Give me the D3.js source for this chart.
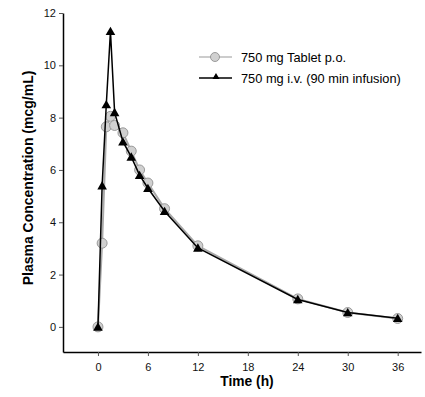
<!DOCTYPE html>
<html>
<head>
<meta charset="utf-8">
<script src="https://cdn.jsdelivr.net/npm/d3@7"></script>
<style>
  body { margin: 0; background: #fff; }
  svg text { font-family: "Liberation Sans", Arial, sans-serif; }
</style>
</head>
<body>
<div id="chart"></div>
<script>
// time points (h)
var tabletTime = [0, 0.5, 1, 1.5, 2, 3, 4, 5, 6, 8, 12, 24, 30, 36];
var tabletConc = [0, 3.2, 7.65, 8.05, 7.7, 7.42, 6.72, 6.0, 5.5, 4.52, 3.1, 1.07, 0.55, 0.32];
var ivTime = [0, 0.5, 1, 1.5, 2, 3, 4, 5, 6, 8, 12, 24, 30, 36];
var ivConc = [0, 5.4, 8.5, 11.3, 8.2, 7.08, 6.5, 5.8, 5.3, 4.42, 3.02, 1.05, 0.55, 0.33];
var xTicks = [0, 6, 12, 18, 24, 30, 36];
var yTicks = [0, 2, 4, 6, 8, 10, 12];
var seriesNames = ["750 mg Tablet p.o.", "750 mg i.v. (90 min infusion)"];

var width = 425, height = 397;
var svg = d3.select("#chart").append("svg")
    .attr("width", width)
    .attr("height", height);

var x = d3.scaleLinear().domain([-4.2, 38.8]).range([63, 421]);
var y = d3.scaleLinear().domain([-0.96, 12]).range([352, 13]);

// axes
var xAxis = svg.append("g")
    .attr("transform", "translate(0," + y(-0.96) + ")")
    .call(d3.axisBottom(x).tickValues(xTicks).tickSize(4).tickSizeOuter(0));
var yAxis = svg.append("g")
    .attr("transform", "translate(" + x(-4.2) + ",0)")
    .call(d3.axisLeft(y).tickValues(yTicks).tickSize(4).tickSizeOuter(0));

[xAxis, yAxis].forEach(function(a) {
    a.select(".domain").attr("stroke", "#000").attr("stroke-width", 1.5);
    a.selectAll(".tick line").attr("stroke", "#555");
    a.selectAll(".tick text")
        .attr("fill", "#111")
        .style("font-size", "11px")
        .style("font-family", "Liberation Sans, Arial, sans-serif");
});
xAxis.selectAll(".tick text").attr("dy", "1.1em");
yAxis.selectAll(".tick text").attr("x", -7);

// axis titles
svg.append("text")
    .attr("x", 247)
    .attr("y", 386)
    .attr("text-anchor", "middle")
    .style("font-size", "13.8px")
    .style("font-weight", "bold")
    .text("Time (h)");

svg.append("text")
    .attr("transform", "translate(33," + 178 + ") rotate(-90)")
    .attr("text-anchor", "middle")
    .style("font-size", "14px")
    .style("font-weight", "bold")
    .text("Plasma Concentration (mcg/mL)");

var line = d3.line()
    .x(function(d) { return x(d[0]); })
    .y(function(d) { return y(d[1]); });

var tabletData = d3.zip(tabletTime, tabletConc);
var ivData = d3.zip(ivTime, ivConc);

// tablet series
svg.append("path")
    .datum(tabletData)
    .attr("d", line)
    .attr("fill", "none")
    .attr("stroke", "#aaa")
    .attr("stroke-width", 2);

svg.append("g").selectAll("circle")
    .data(tabletData)
    .enter().append("circle")
    .attr("cx", function(d) { return x(d[0]); })
    .attr("cy", function(d) { return y(d[1]); })
    .attr("r", 5)
    .attr("fill", "#d0d0d0")
    .attr("stroke", "#888")
    .attr("stroke-width", 0.8);

// iv series
svg.append("path")
    .datum(ivData)
    .attr("d", line)
    .attr("fill", "none")
    .attr("stroke", "#000")
    .attr("stroke-width", 1.5);

var tri = d3.symbol().type(d3.symbolTriangle).size(40);
svg.append("g").selectAll("path")
    .data(ivData)
    .enter().append("path")
    .attr("d", tri)
    .attr("transform", function(d) { return "translate(" + x(d[0]) + "," + (y(d[1]) + 1) + ")"; })
    .attr("fill", "#000");

// legend
var legend = svg.append("g");
legend.append("line")
    .attr("x1", 199).attr("x2", 232).attr("y1", 57).attr("y2", 57)
    .attr("stroke", "#bbb").attr("stroke-width", 1.5);
legend.append("circle")
    .attr("cx", 215).attr("cy", 57).attr("r", 4.5)
    .attr("fill", "#d0d0d0").attr("stroke", "#888").attr("stroke-width", 0.8);
legend.append("text")
    .attr("x", 241).attr("y", 62)
    .style("font-size", "12.8px")
    .text(seriesNames[0]);

legend.append("line")
    .attr("x1", 199).attr("x2", 232).attr("y1", 78).attr("y2", 78)
    .attr("stroke", "#000").attr("stroke-width", 1.5);
legend.append("path")
    .attr("d", d3.symbol().type(d3.symbolTriangle).size(22))
    .attr("transform", "translate(216,77)")
    .attr("fill", "#000");
legend.append("text")
    .attr("x", 241).attr("y", 83)
    .style("font-size", "12.8px")
    .text(seriesNames[1]);
</script>
</body>
</html>
